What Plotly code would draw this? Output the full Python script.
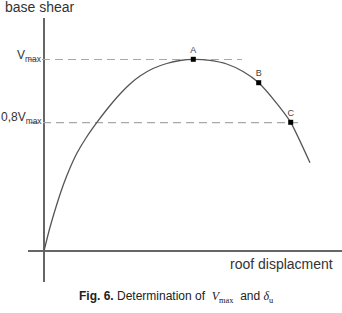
import plotly.graph_objects as go

# capacity curve (roof displacement vs base shear), arbitrary units
curve_x = [0, 5, 10, 15, 20, 26, 33, 42, 52.7, 64, 76, 86, 96, 109, 122.7, 136, 149.3,
           166, 182.7, 199, 214.7, 232.7, 246.7, 266]
curve_y = [0, 20, 37.5, 53.5, 68, 83, 98, 113, 128.3, 143, 157, 167, 175, 182.5, 187.5, 190.5, 191.7,
           190.6, 187, 179.5, 168.3, 147.7, 128.7, 88.3]

# key points
pt_labels = ["A", "B", "C"]
pt_x = [149.3, 214.7, 246.7]
pt_y = [191.7, 168.3, 128.7]

# reference levels
vmax = 191.5
v08 = 128.3
vmax_line_x = [-15, 198]
v08_line_x = [-14, 256]

fig = go.Figure()

fig.add_trace(go.Scatter(x=vmax_line_x, y=[vmax, vmax], mode="lines",
                         line=dict(color="#a8a8a8", width=1.2, dash="8px,5px"),
                         hoverinfo="skip", showlegend=False))
fig.add_trace(go.Scatter(x=v08_line_x, y=[v08, v08], mode="lines",
                         line=dict(color="#a8a8a8", width=1.2, dash="8px,5px"),
                         hoverinfo="skip", showlegend=False))
fig.add_trace(go.Scatter(x=curve_x, y=curve_y, mode="lines",
                         line=dict(color="#555555", width=1.3, shape="spline", smoothing=0.6),
                         showlegend=False))
fig.add_trace(go.Scatter(x=pt_x, y=pt_y, mode="markers+text", text=pt_labels,
                         textposition="top center",
                         textfont=dict(family="Liberation Sans", size=9, color="#444444"),
                         marker=dict(symbol="square", size=5, color="black"),
                         cliponaxis=False, showlegend=False))

W, H = 342, 313
L, R, T, B = 28, 0, 18, 31
pw, ph = W - L - R, H - T - B

def px_anno(text, px, py, xanchor, size):
    return dict(text=text, x=(px - L) / pw, y=(H - B - py) / ph,
                xref="paper", yref="paper", xanchor=xanchor, yanchor="middle",
                showarrow=False,
                font=dict(family="Liberation Sans", size=size, color="#333333"))

annotations = [
    px_anno("base shear", 3, 7, "left", 14),
    px_anno("V<sub>max</sub>", 44, 56, "right", 12),
    px_anno("0,8V<sub>max</sub>", 44, 118, "right", 12),
    px_anno("roof displacment", 228, 264, "left", 14),
]

caption = ('<b>Fig. 6.</b> Determination of  '
           '<span style="font-family:Liberation Serif"><i>V</i><sub>max</sub></span>'
           '  and <span style="font-family:Liberation Serif"><i>δ</i><sub>u</sub></span>')
annotations.append(dict(text=caption, x=(176 - L) / pw, y=(H - B - 297) / ph,
                        xref="paper", yref="paper", xanchor="center", yanchor="middle",
                        showarrow=False,
                        font=dict(family="Liberation Sans", size=12, color="#222222")))

fig.update_layout(
    width=W, height=H,
    margin=dict(l=L, r=R, t=T, b=B),
    paper_bgcolor="white", plot_bgcolor="white",
    xaxis=dict(range=[-16, 298], showgrid=False, showticklabels=False, ticks="",
               zeroline=True, zerolinecolor="#666666", zerolinewidth=1.5, fixedrange=True),
    yaxis=dict(range=[-31, 233], showgrid=False, showticklabels=False, ticks="",
               zeroline=True, zerolinecolor="#666666", zerolinewidth=1.5, fixedrange=True),
    annotations=annotations,
)

fig.write_html("out.html")
